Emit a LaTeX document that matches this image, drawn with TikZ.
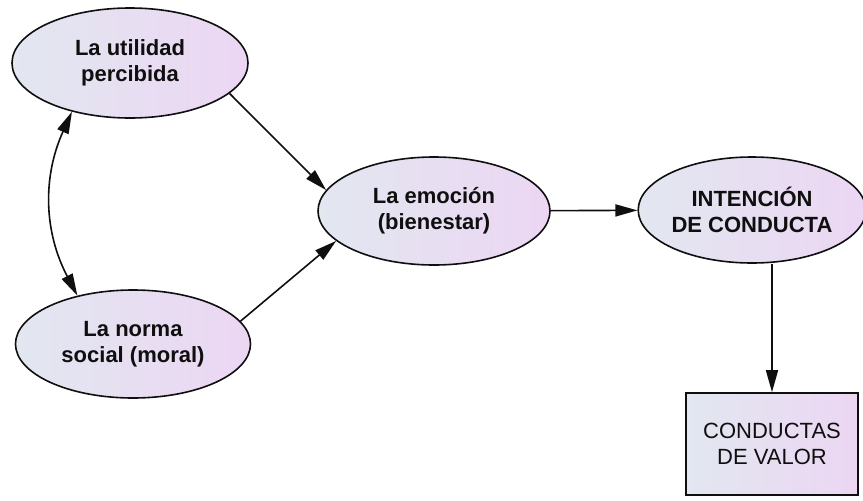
\documentclass[tikz,border=0pt]{standalone}
\usepackage{fontspec}
\setmainfont{Liberation Sans}
\usetikzlibrary{shapes.geometric,arrows.meta}
\definecolor{fillL}{RGB}{226,231,240}
\definecolor{fillR}{RGB}{236,214,243}
\definecolor{ink}{RGB}{15,15,15}
\tikzset{
  concept/.style={ellipse, draw=ink, line width=1.6pt, left color=fillL, right color=fillR,
    inner sep=0pt, align=center, text=ink, font=\fontsize{22}{26}\selectfont\bfseries},
  outcome/.style={rectangle, draw=ink, line width=1.6pt, left color=fillL, right color=fillR,
    inner sep=0pt, align=center, text=ink, font=\fontsize{22}{26}\selectfont,
    minimum width=172pt, minimum height=102pt},
  link/.style={draw=ink, line width=1.6pt, -{Triangle[length=22pt,width=12pt]}},
  mutual/.style={draw=ink, line width=1.6pt, {Triangle[length=22pt,width=12pt]}-{Triangle[length=22pt,width=12pt]}}
}
\begin{document}
\begin{tikzpicture}[x=1pt,y=-1pt]
\useasboundingbox (0,0) rectangle (863,501);
\node[concept, minimum width=236pt, minimum height=110pt] (util) at (130,63) {La utilidad\\percibida};
\node[concept, minimum width=235pt, minimum height=108pt] (norma) at (133,344) {La norma\\social (moral)};
\node[concept, minimum width=232pt, minimum height=108pt] (emo) at (434,211) {La emoción\\(bienestar)};
\node[concept, minimum width=220pt, minimum height=106pt] (int) at (752,210) {INTENCIÓN\\DE CONDUCTA};
\node[outcome] (cond) at (772,444) {CONDUCTAS\\DE VALOR};

\draw[link] (util.-17) -- (emo.169);
\draw[link] (norma.12) -- (emo.-163);
\draw[link] (emo) -- (int);
\draw[link] (int.south -| cond.north) -- (cond.north);
\draw[mutual] (util.-140) to[bend right=26] (norma.139);
\end{tikzpicture}
\end{document}
